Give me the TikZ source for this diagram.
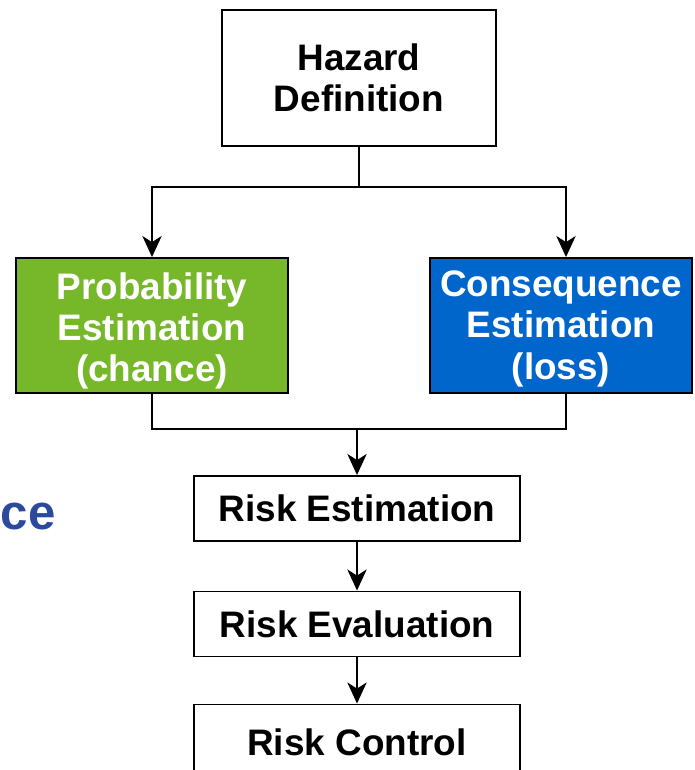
\documentclass[tikz,border=0pt]{standalone}
\usepackage{fontspec}
\setmainfont{Liberation Sans}
\usetikzlibrary{arrows.meta}
\usepackage{xcolor}
\definecolor{verde}{HTML}{76B82A}
\definecolor{azul}{HTML}{0066CC}
\definecolor{azultxt}{HTML}{2B4A9E}

\begin{document}
\begin{tikzpicture}[x=0.02cm,y=-0.02cm,>={Stealth[length=12pt,width=11pt,inset=3.5pt]},
  caja/.style={draw,line width=1.1pt,align=center,inner sep=0pt,
    font=\fontsize{21}{23.5}\selectfont\bfseries},
  color/.style={caja,fill=#1,text=white,text height=70.5pt,text depth=6.3pt},
  flecha/.style={line width=1.1pt,->}]
\useasboundingbox (0,0) rectangle (694,770);
\clip (0,0) rectangle (694,770);
% cajas
\node[caja,minimum width=5.48cm,minimum height=2.72cm] (hazard) at (359,78) {Hazard\\Definition};
\node[color=verde,minimum width=5.44cm] (prob) at (152,325.5) {Probability\\Estimation\\(chance)};
\node[color=azul,minimum width=5.24cm,text height=69pt,text depth=7.8pt] (cons) at (561,325.5) {Consequence\\Estimation\\(loss)};
\node[caja,minimum width=6.52cm,minimum height=1.3cm] (est) at (357,508.5) {Risk Estimation};
\node[caja,minimum width=6.52cm,minimum height=1.3cm] (eval) at (357,624) {Risk Evaluation};
\node[caja,minimum width=6.52cm,minimum height=1.5cm] (ctrl) at (357,742) {Risk Control}; % sale por abajo
\node[text=azultxt,inner sep=0pt,anchor=base east,font=\fontsize{28}{30}\selectfont\bfseries] (ce) at (56,529) {ce};
% conexiones
\coordinate (split) at (359,187);
\coordinate (join) at (357,429);
\draw[line width=1.1pt] (hazard) -- (split);
\draw[flecha] (split) -| (prob.north);
\draw[flecha] (split) -| ([xshift=0.1cm]cons.north);
\draw[line width=1.1pt] (prob.south) |- (join) -| ([xshift=0.1cm]cons.south);
\draw[flecha] (join) -- (est);
\draw[flecha] (est) -- (eval);
\draw[flecha] (eval) -- (ctrl);
\end{tikzpicture}
\end{document}
